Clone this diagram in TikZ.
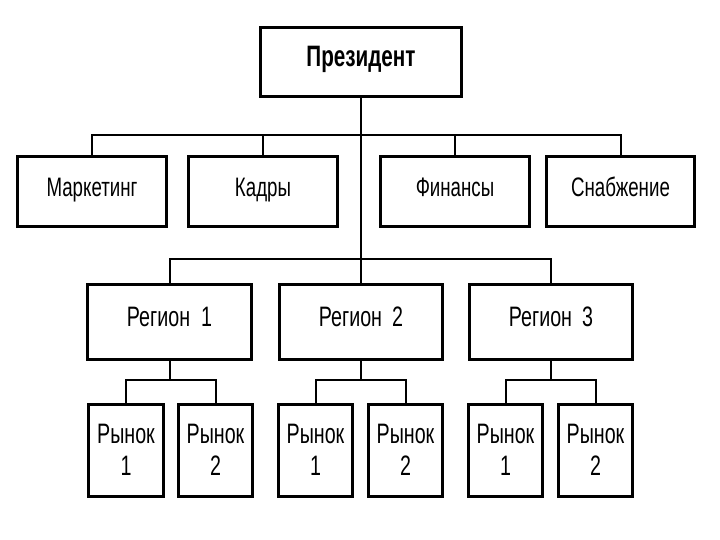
\documentclass[tikz,border=0pt]{standalone}
\usepackage{fontspec}
\setmainfont{Liberation Sans}[FakeStretch=0.7]
\begin{document}
\begin{tikzpicture}[x=0.25mm,y=-0.25mm]
\tikzset{
  unitbox/.style={rectangle,draw,line width=0.75mm,inner sep=1pt,align=center,font=\fontsize{19}{23}\selectfont},
  oneline/.style={text height=0.72em,text depth=0.02em},
  topbox/.style={unitbox,oneline,minimum width=50mm,minimum height=17.25mm,font=\fontsize{21}{24}\selectfont\bfseries},
  deptbox/.style={unitbox,oneline,minimum width=37mm,minimum height=17.5mm},
  regionbox/.style={unitbox,oneline,minimum width=40.75mm,minimum height=18.75mm,font=\fontsize{20}{23}\selectfont},
  marketbox/.style={unitbox,minimum width=18.5mm,minimum height=23mm,font=\fontsize{20}{23}\selectfont},
  link/.style={line width=0.5mm}
}
\useasboundingbox (0,0) rectangle (720,540);
\coordinate (bus_d) at (0,135);
\coordinate (bus_r) at (0,259);
\coordinate (bus_m) at (0,380);
\node[topbox] (n_pres) at (361,61.5) {Президент};
\node[deptbox] (n_mark) at (92,191.5) {Маркетинг};
\node[deptbox] (n_kadr) at (263,191.5) {Кадры};
\node[deptbox] (n_fin) at (455,191.5) {Финансы};
\node[deptbox] (n_snab) at (620.5,191.5) {Снабжение};
\node[regionbox] (n_reg1) at (169.5,321.5) {Регион\ \ 1};
\node[regionbox] (n_reg2) at (361,321.5) {Регион\ \,2};
\node[regionbox] (n_reg3) at (551,321.5) {Регион\ \,3};
\node[marketbox] (n_m11) at (126,450) {Рынок\\1};
\node[marketbox] (n_m12) at (215.5,450) {Рынок\\2};
\node[marketbox] (n_m21) at (315.5,450) {Рынок\\1};
\node[marketbox] (n_m22) at (405.5,450) {Рынок\\2};
\node[marketbox] (n_m31) at (505.5,450) {Рынок\\1};
\node[marketbox] (n_m32) at (595.5,450) {Рынок\\2};
% president to departments and regions
\draw[link] (n_pres) -- (n_reg2);
\draw[link] (n_mark) -- (n_mark.north |- bus_d) -- (n_snab.north |- bus_d) -- (n_snab);
\draw[link] (n_kadr) -- (n_kadr.north |- bus_d);
\draw[link] (n_fin) -- (n_fin.north |- bus_d);
\draw[link] (n_reg1) -- (n_reg1.north |- bus_r) -- (n_reg3.north |- bus_r) -- (n_reg3);
% regions to markets
\draw[link] (n_reg1) -- (n_reg1.south |- bus_m);
\draw[link] (n_m11) -- (n_m11.north |- bus_m) -- (n_m12.north |- bus_m) -- (n_m12);
\draw[link] (n_reg2) -- (n_reg2.south |- bus_m);
\draw[link] (n_m21) -- (n_m21.north |- bus_m) -- (n_m22.north |- bus_m) -- (n_m22);
\draw[link] (n_reg3) -- (n_reg3.south |- bus_m);
\draw[link] (n_m31) -- (n_m31.north |- bus_m) -- (n_m32.north |- bus_m) -- (n_m32);
\end{tikzpicture}
\end{document}
